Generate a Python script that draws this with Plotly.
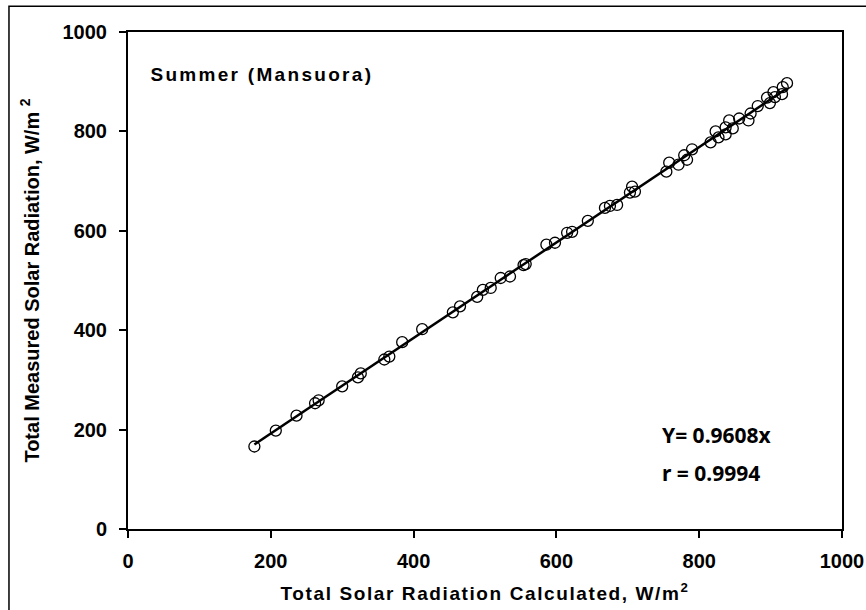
import plotly.graph_objects as go

# Data (calculated vs measured total solar radiation, W/m2)
x_calc = [177, 207, 236, 262, 267, 300, 322, 326, 359, 366, 384,
          412, 455, 465, 489, 497, 508, 522, 535, 554, 557, 586, 598,
          615, 622, 644, 668, 675, 685, 703, 706, 710,
          754, 758, 771, 779, 783, 790, 816, 823, 827, 837, 837, 842,
          847, 856, 869, 872, 882, 895, 899, 904, 906, 916, 917, 923]
y_meas = [166, 198, 228, 253, 259, 287, 305, 313, 341, 347, 376,
          402, 436, 448, 467, 481, 485, 505, 508, 531, 533, 572, 576,
          596, 598, 620, 646, 650, 652, 677, 689, 679,
          719, 737, 733, 752, 743, 764, 778, 800, 788, 794, 808, 822,
          806, 826, 822, 836, 851, 868, 857, 879, 869, 875, 889, 897]

slope = 0.9608
r_value = 0.9994
fit_x = [min(x_calc), max(x_calc)]
fit_y = [slope * v for v in fit_x]

x_ticks = [0, 200, 400, 600, 800, 1000]
y_ticks = [0, 200, 400, 600, 800, 1000]

title_text = "Summer (Mansuora)"
x_title = "Total Solar Radiation Calculated, W/m<sup>2</sup>"
y_title = "Total Measured Solar Radiation, W/m <sup>2</sup>"

fig = go.Figure()
fig.add_trace(go.Scatter(
    x=fit_x, y=fit_y, mode="lines",
    line=dict(color="black", width=2.5), showlegend=False, hoverinfo="skip"))
fig.add_trace(go.Scatter(
    x=x_calc, y=y_meas, mode="markers",
    marker=dict(symbol="circle-open", size=11, color="black",
                line=dict(color="black", width=1.3)),
    showlegend=False))

FONT = "Liberation Sans"
axis_common = dict(
    showline=True, linecolor="black", linewidth=2, mirror=True,
    ticks="outside", ticklen=7, tickwidth=1.5, tickcolor="black",
    showgrid=False, zeroline=False, automargin=False,
    tickfont=dict(family=FONT, size=20, color="black", weight="bold"),
)

fig.update_xaxes(range=[0, 1000], tickvals=x_ticks, ticklabelstandoff=6,
                 **axis_common,
                 title=dict(text=x_title, standoff=16,
                            font=dict(family=FONT, size=19,
                                      color="black", weight="bold")))
fig.update_yaxes(range=[0, 1000], tickvals=y_ticks, ticklabelstandoff=8,
                 **axis_common,
                 title=dict(text=y_title, standoff=18,
                            font=dict(family=FONT, size=20,
                                      color="black", weight="bold")))

fig.add_annotation(x=56, y=915, xref="x", yref="y", text=title_text,
                   showarrow=False, xanchor="left", yanchor="middle",
                   font=dict(family=FONT, size=19, color="black",
                             weight="bold"))
fig.add_annotation(x=745, y=190, xref="x", yref="y",
                   text=f"Y= {slope}x", showarrow=False,
                   xanchor="left", yanchor="middle",
                   font=dict(family="Noto Sans", size=21, color="black",
                             weight="bold"))
fig.add_annotation(x=745, y=113, xref="x", yref="y",
                   text=f"r = {r_value}", showarrow=False,
                   xanchor="left", yanchor="middle",
                   font=dict(family="Noto Sans", size=21, color="black",
                             weight="bold"))

# outer chart frame
fig.add_shape(type="rect", xref="paper", yref="paper",
              x0=-0.1667, x1=1.05, y0=-0.19, y1=1.052,
              line=dict(color="black", width=1.5), layer="below")

fig.update_layout(
    width=866, height=610,
    margin=dict(l=128, r=24, t=32, b=81, autoexpand=False),
    paper_bgcolor="white", plot_bgcolor="white",
    showlegend=False,
)

spacing_js = """
var gd = document.getElementById('{plot_id}');
gd.querySelectorAll('text.xtitle').forEach(function(t){ t.style.letterSpacing = '1.6px'; });
gd.querySelectorAll('text.annotation-text').forEach(function(t){
  if (t.textContent.indexOf('Summer') === 0) { t.style.letterSpacing = '2.3px'; }
});
"""

fig.write_html("out.html", post_script=spacing_js)
